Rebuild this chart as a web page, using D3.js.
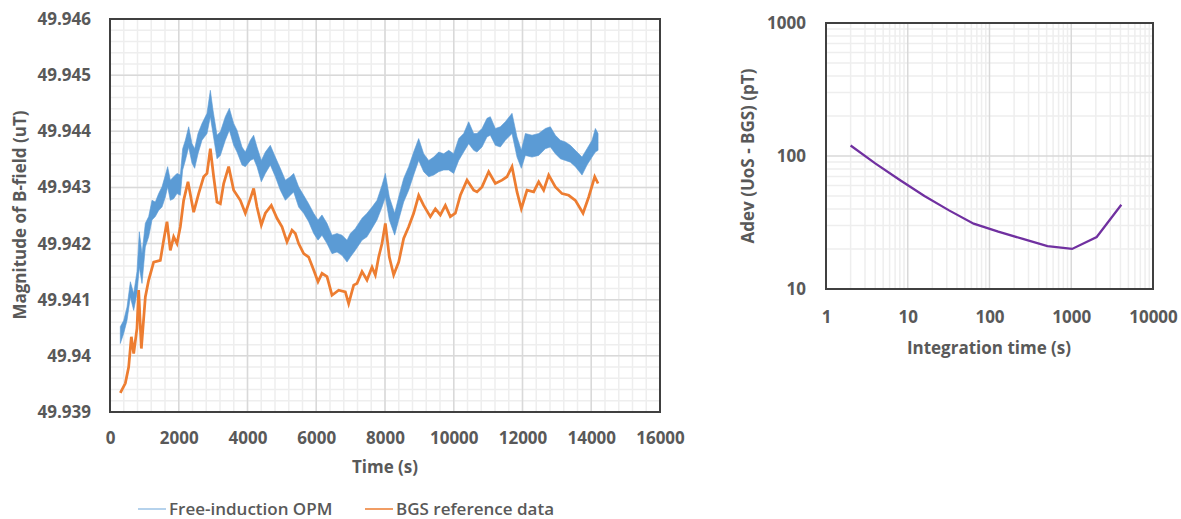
<!DOCTYPE html>
<html>
<head>
<meta charset="utf-8">
<style>
  body {margin: 0; background: #fff; font-family: "Open Sans", sans-serif;}
  .tick text {fill: #595959; font-weight: 700; font-size: 17px; font-family: "Open Sans", sans-serif;}
  .title {fill: #595959; font-weight: 700; font-size: 17px;}
  .legend {fill: #595959; font-weight: 600; font-size: 17px;}
</style>
<script src="https://d3js.org/d3.v7.min.js"></script>
</head>
<body>
<div id="chart"></div>
<script>

// ---- left panel: field vs time ----
const opmTime = [
  300, 398, 495, 592, 689, 785, 853, 931, 1028, 1125,
  1222, 1318, 1415, 1513, 1610, 1677, 1755, 1852, 1949, 2046,
  2114, 2192, 2289, 2386, 2463, 2560, 2676, 2822, 2919, 2996,
  3113, 3210, 3355, 3472, 3598, 3695, 3840, 3937, 4082, 4179,
  4276, 4402, 4519, 4664, 4810, 4955, 5101, 5246, 5343, 5488,
  5634, 5779, 5925, 6051, 6167, 6313, 6458, 6604, 6749, 6895,
  6992, 7137, 7331, 7476, 7622, 7767, 7913, 8010, 8126, 8281,
  8398, 8543, 8689, 8834, 8980, 9125, 9271, 9416, 9562, 9707,
  9853, 9998, 10144, 10289, 10435, 10580, 10676, 10822, 10967, 11064,
  11210, 11355, 11501, 11695, 11840, 11966, 12083, 12277, 12471, 12665,
  12810, 12956, 13101, 13247, 13392, 13538, 13732, 13877, 14023, 14120,
  14198
]
// upper edge of the noisy OPM trace
const opmHigh = [
  49.94052, 49.94063, 49.94087, 49.94132, 49.94111, 49.94150, 49.94221, 49.94182, 49.94236, 49.94248,
  49.94277, 49.94274, 49.94289, 49.94301, 49.94322, 49.94337, 49.94313, 49.94319, 49.94325, 49.94322,
  49.94369, 49.94384, 49.94408, 49.94378, 49.94369, 49.94396, 49.94414, 49.94432, 49.94473, 49.94438,
  49.94393, 49.94399, 49.94426, 49.94441, 49.94414, 49.94402, 49.94372, 49.94363, 49.94384, 49.94393,
  49.94372, 49.94348, 49.94363, 49.94375, 49.94354, 49.94334, 49.94313, 49.94319, 49.94325, 49.94301,
  49.94286, 49.94271, 49.94254, 49.94242, 49.94251, 49.94236, 49.94215, 49.94218, 49.94215, 49.94206,
  49.94218, 49.94227, 49.94245, 49.94254, 49.94265, 49.94277, 49.94304, 49.94325, 49.94283, 49.94254,
  49.94283, 49.94316, 49.94337, 49.94363, 49.94387, 49.94360, 49.94348, 49.94354, 49.94363, 49.94360,
  49.94366, 49.94360, 49.94387, 49.94396, 49.94417, 49.94396, 49.94396, 49.94405, 49.94423, 49.94426,
  49.94405, 49.94408, 49.94417, 49.94432, 49.94390, 49.94366, 49.94396, 49.94393, 49.94396, 49.94405,
  49.94408, 49.94393, 49.94384, 49.94381, 49.94375, 49.94366, 49.94354, 49.94369, 49.94384, 49.94405,
  49.94396
]
// lower edge of the noisy OPM trace
const opmLow = [
  49.94022, 49.94040, 49.94063, 49.94105, 49.94081, 49.94111, 49.94158, 49.94129, 49.94194, 49.94212,
  49.94242, 49.94248, 49.94259, 49.94265, 49.94283, 49.94301, 49.94277, 49.94280, 49.94289, 49.94286,
  49.94331, 49.94348, 49.94372, 49.94343, 49.94334, 49.94360, 49.94384, 49.94396, 49.94426, 49.94396,
  49.94351, 49.94357, 49.94384, 49.94402, 49.94375, 49.94363, 49.94340, 49.94337, 49.94348, 49.94351,
  49.94337, 49.94310, 49.94325, 49.94340, 49.94319, 49.94295, 49.94277, 49.94286, 49.94292, 49.94265,
  49.94254, 49.94239, 49.94218, 49.94206, 49.94215, 49.94200, 49.94182, 49.94185, 49.94179, 49.94167,
  49.94176, 49.94188, 49.94206, 49.94212, 49.94227, 49.94242, 49.94265, 49.94283, 49.94242, 49.94215,
  49.94242, 49.94274, 49.94295, 49.94322, 49.94348, 49.94328, 49.94319, 49.94322, 49.94328, 49.94331,
  49.94331, 49.94325, 49.94348, 49.94363, 49.94378, 49.94366, 49.94363, 49.94372, 49.94390, 49.94393,
  49.94375, 49.94372, 49.94384, 49.94396, 49.94354, 49.94334, 49.94357, 49.94354, 49.94357, 49.94369,
  49.94372, 49.94360, 49.94351, 49.94348, 49.94345, 49.94337, 49.94322, 49.94340, 49.94354, 49.94363,
  49.94366
]

const bgsTime = [
  300, 446, 543, 621, 689, 785, 834, 912, 1028, 1125,
  1270, 1464, 1561, 1658, 1755, 1852, 1949, 2046, 2143, 2269,
  2434, 2579, 2725, 2822, 2919, 3016, 3113, 3210, 3307, 3452,
  3598, 3791, 3937, 4082, 4179, 4276, 4402, 4519, 4693, 4858,
  5004, 5149, 5295, 5392, 5488, 5634, 5779, 5925, 6051, 6167,
  6313, 6458, 6652, 6846, 6943, 7089, 7185, 7331, 7476, 7622,
  7719, 7816, 7913, 8010, 8126, 8252, 8398, 8543, 8689, 8834,
  8980, 9125, 9319, 9465, 9610, 9756, 9901, 10047, 10192, 10386,
  10580, 10676, 10822, 11016, 11210, 11404, 11549, 11695, 11840, 11966,
  12131, 12325, 12471, 12616, 12762, 12956, 13150, 13344, 13538, 13761,
  13926, 14101, 14198
]
const bgsField = [
  49.93934, 49.93951, 49.93980, 49.94034, 49.94004, 49.94049, 49.94117, 49.94013, 49.94105, 49.94135,
  49.94167, 49.94170, 49.94206, 49.94239, 49.94188, 49.94212, 49.94200, 49.94230, 49.94277, 49.94310,
  49.94256, 49.94289, 49.94319, 49.94325, 49.94369, 49.94319, 49.94274, 49.94271, 49.94307, 49.94337,
  49.94295, 49.94277, 49.94254, 49.94280, 49.94298, 49.94265, 49.94233, 49.94254, 49.94268, 49.94245,
  49.94230, 49.94203, 49.94224, 49.94218, 49.94200, 49.94182, 49.94176, 49.94153, 49.94132, 49.94147,
  49.94141, 49.94108, 49.94117, 49.94114, 49.94093, 49.94126, 49.94129, 49.94150, 49.94135, 49.94158,
  49.94144, 49.94176, 49.94200, 49.94236, 49.94176, 49.94144, 49.94167, 49.94209, 49.94230, 49.94254,
  49.94286, 49.94268, 49.94248, 49.94262, 49.94251, 49.94268, 49.94248, 49.94254, 49.94286, 49.94313,
  49.94295, 49.94292, 49.94301, 49.94328, 49.94307, 49.94313, 49.94319, 49.94337, 49.94292, 49.94262,
  49.94295, 49.94292, 49.94310, 49.94295, 49.94322, 49.94301, 49.94289, 49.94286, 49.94277, 49.94254,
  49.94283, 49.94319, 49.94307
]

const timeTicks = [0, 2000, 4000, 6000, 8000, 10000, 12000, 14000, 16000]
const fieldTicks = [49.939, 49.94, 49.941, 49.942, 49.943, 49.944, 49.945, 49.946]
const seriesNames = ['Free-induction OPM', 'BGS reference data']

// ---- right panel: Allan deviation ----
const tau = [2, 4, 8, 16, 32, 64, 128, 256, 512, 1024, 2048, 4096]
const adev = [120, 88, 66, 50, 39, 31, 27, 23.8, 21, 20, 24.6, 43]
const tauTicks = [1, 10, 100, 1000, 10000]
const adevTicks = [10, 100, 1000]

const blue = '#5b9bd5', orange = '#ed7d31', purple = '#7030a0'
const gridMajor = '#d9d9d9', gridMinor = '#eeeeee'

const svg = d3.select('#chart').append('svg')
  .attr('width', 1181)
  .attr('height', 519)

// ===== left chart =====
const x = d3.scaleLinear().domain([0, 16000]).range([110, 660])
const y = d3.scaleLinear().domain([49.939, 49.946]).range([412, 19])

const left = svg.append('g')

// minor grid every 400 s / 0.0002 uT
left.append('g').selectAll('line')
  .data(d3.range(0, 16001, 400))
  .enter().append('line')
  .attr('x1', d => x(d)).attr('x2', d => x(d))
  .attr('y1', y.range()[0]).attr('y2', y.range()[1])
  .style('stroke', gridMinor).style('stroke-width', 1.5)
left.append('g').selectAll('line')
  .data(d3.range(0, 36).map(i => 49.939 + i * 0.0002))
  .enter().append('line')
  .attr('y1', d => y(d)).attr('y2', d => y(d))
  .attr('x1', x.range()[0]).attr('x2', x.range()[1])
  .style('stroke', gridMinor).style('stroke-width', 1.5)

left.append('g').selectAll('line')
  .data(timeTicks)
  .enter().append('line')
  .attr('x1', d => x(d)).attr('x2', d => x(d))
  .attr('y1', y.range()[0]).attr('y2', y.range()[1])
  .style('stroke', gridMajor).style('stroke-width', 1.5)
left.append('g').selectAll('line')
  .data(fieldTicks)
  .enter().append('line')
  .attr('y1', d => y(d)).attr('y2', d => y(d))
  .attr('x1', x.range()[0]).attr('x2', x.range()[1])
  .style('stroke', gridMajor).style('stroke-width', 1.5)

// OPM trace: band between the upper and lower edges
const opm = opmTime.map((t, i) => ({t: t, hi: opmHigh[i], lo: opmLow[i]}))
const band = d3.area()
  .x(d => x(d.t))
  .y0(d => y(d.lo))
  .y1(d => y(d.hi))
left.append('path')
  .datum(opm)
  .attr('d', band)
  .style('fill', blue)
  .style('stroke', blue)
  .style('stroke-width', 1)
  .style('stroke-opacity', 0.6)

const bgs = bgsTime.map((t, i) => ({t: t, v: bgsField[i]}))
const bgsLine = d3.line()
  .x(d => x(d.t))
  .y(d => y(d.v))
left.append('path')
  .datum(bgs)
  .attr('d', bgsLine)
  .style('fill', 'none')
  .style('stroke', orange)
  .style('stroke-width', 2.75)
  .style('stroke-linejoin', 'miter')

left.append('rect')
  .attr('x', 110).attr('y', 19)
  .attr('width', 550).attr('height', 393)
  .style('fill', 'none')
  .style('stroke', '#404040')
  .style('stroke-width', 2)

left.append('g')
  .attr('transform', 'translate(0,412)')
  .call(d3.axisBottom(x).tickValues(timeTicks).tickSize(0).tickPadding(20).tickFormat(d3.format('d')))
  .call(g => g.select('.domain').remove())
left.append('g')
  .attr('transform', 'translate(110,0)')
  .call(d3.axisLeft(y).tickValues(fieldTicks).tickSize(0).tickPadding(19).tickFormat(d => String(+d.toFixed(3))))
  .call(g => g.select('.domain').remove())

left.append('text')
  .attr('class', 'title')
  .attr('x', 385).attr('y', 473)
  .attr('text-anchor', 'middle')
  .text('Time (s)')
left.append('text')
  .attr('class', 'title')
  .attr('transform', 'translate(26,215) rotate(-90)')
  .attr('text-anchor', 'middle')
  .text('Magnitude of B-field (uT)')

// legend
const legendX = [138, 365]
const legend = left.selectAll('.leg')
  .data(seriesNames)
  .enter().append('g')
  .attr('transform', (d, i) => 'translate(' + legendX[i] + ',509)')
legend.append('line')
  .attr('x1', 0).attr('x2', 28)
  .style('stroke', (d, i) => i === 0 ? '#9dc3e6' : orange)
  .style('stroke-width', 1.5)
legend.append('text')
  .attr('class', 'legend')
  .attr('x', 31).attr('dy', '0.35em')
  .text(d => d)

// ===== right chart =====
const lx = d3.scaleLog().domain([1, 10000]).range([826, 1153])
const ly = d3.scaleLog().domain([10, 1000]).range([289, 23])

const right = svg.append('g')

const minorTau = []
for (let e = 0; e < 4; e++) for (let k = 2; k < 10; k++) minorTau.push(k * Math.pow(10, e))
const minorAdev = []
for (let e = 1; e < 3; e++) for (let k = 2; k < 10; k++) minorAdev.push(k * Math.pow(10, e))

right.append('g').selectAll('line')
  .data(minorTau)
  .enter().append('line')
  .attr('x1', d => lx(d)).attr('x2', d => lx(d))
  .attr('y1', ly.range()[0]).attr('y2', ly.range()[1])
  .style('stroke', gridMinor).style('stroke-width', 1.5)
right.append('g').selectAll('line')
  .data(minorAdev)
  .enter().append('line')
  .attr('y1', d => ly(d)).attr('y2', d => ly(d))
  .attr('x1', lx.range()[0]).attr('x2', lx.range()[1])
  .style('stroke', gridMinor).style('stroke-width', 1.5)
right.append('g').selectAll('line')
  .data(tauTicks)
  .enter().append('line')
  .attr('x1', d => lx(d)).attr('x2', d => lx(d))
  .attr('y1', ly.range()[0]).attr('y2', ly.range()[1])
  .style('stroke', gridMajor).style('stroke-width', 1.5)
right.append('g').selectAll('line')
  .data(adevTicks)
  .enter().append('line')
  .attr('y1', d => ly(d)).attr('y2', d => ly(d))
  .attr('x1', lx.range()[0]).attr('x2', lx.range()[1])
  .style('stroke', gridMajor).style('stroke-width', 1.5)

const adevLine = d3.line()
  .x(d => lx(d[0]))
  .y(d => ly(d[1]))
right.append('path')
  .datum(tau.map((t, i) => [t, adev[i]]))
  .attr('d', adevLine)
  .style('fill', 'none')
  .style('stroke', purple)
  .style('stroke-width', 2.25)

right.append('rect')
  .attr('x', 826).attr('y', 23)
  .attr('width', 327).attr('height', 266)
  .style('fill', 'none')
  .style('stroke', '#404040')
  .style('stroke-width', 2)

right.append('g')
  .attr('transform', 'translate(0,289)')
  .call(d3.axisBottom(lx).tickValues(tauTicks).tickSize(0).tickPadding(22).tickFormat(d3.format('d')))
  .call(g => g.select('.domain').remove())
right.append('g')
  .attr('transform', 'translate(826,0)')
  .call(d3.axisLeft(ly).tickValues(adevTicks).tickSize(0).tickPadding(20).tickFormat(d3.format('d')))
  .call(g => g.select('.domain').remove())

right.append('text')
  .attr('class', 'title')
  .attr('x', 989).attr('y', 354)
  .attr('text-anchor', 'middle')
  .text('Integration time (s)')
right.append('text')
  .attr('class', 'title')
  .attr('transform', 'translate(754,156) rotate(-90)')
  .attr('text-anchor', 'middle')
  .text('Adev (UoS - BGS) (pT)')

</script>
</body>
</html>
